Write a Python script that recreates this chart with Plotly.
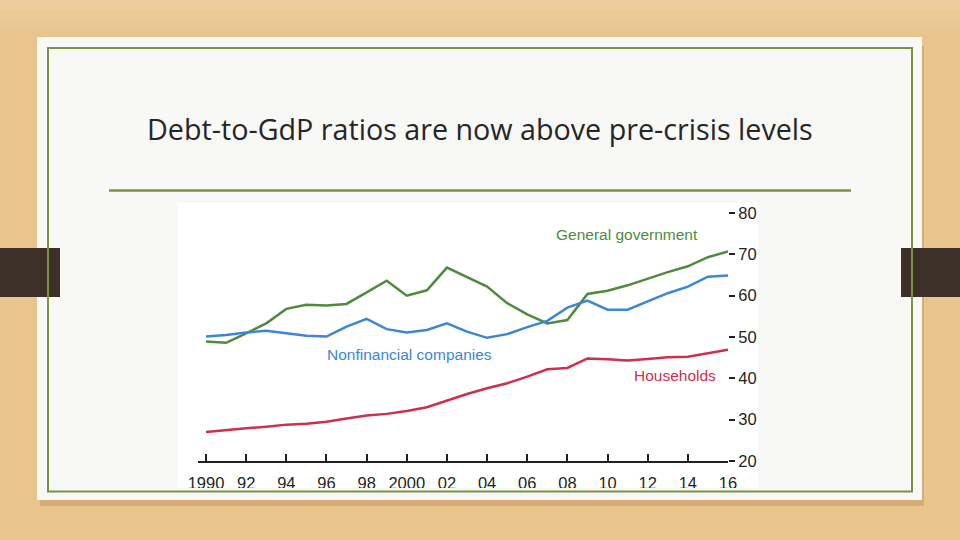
import plotly.graph_objects as go

years = list(range(1990, 2017))
general_government = [48.9, 48.6, 50.9, 53.3, 56.8, 57.8, 57.6, 58.0, 60.8, 63.6, 60.0, 61.3, 66.8, 64.4,
                      62.2, 58.2, 55.5, 53.3, 54.1, 60.4, 61.2, 62.5, 64.1, 65.7, 67.1, 69.3, 70.7]
nonfinancial_companies = [50.1, 50.5, 51.1, 51.5, 50.9, 50.3, 50.1, 52.5, 54.4, 51.9, 51.1, 51.7, 53.3, 51.3,
                          49.8, 50.7, 52.4, 53.9, 57.1, 58.8, 56.6, 56.6, 58.6, 60.6, 62.2, 64.6, 64.9]
households = [27.0, 27.5, 27.9, 28.3, 28.8, 29.0, 29.5, 30.3, 31.0, 31.4, 32.1, 33.0, 34.6, 36.2,
              37.6, 38.8, 40.4, 42.2, 42.5, 44.8, 44.6, 44.3, 44.7, 45.1, 45.2, 46.1, 46.9]
x_tick_vals = list(range(1990, 2017, 2))
x_tick_text = ["1990", "92", "94", "96", "98", "2000", "02", "04", "06", "08", "10", "12", "14", "16"]
y_tick_vals = [20, 30, 40, 50, 60, 70, 80]

title_text = "Debt-to-GdP ratios are now above pre-crisis levels"

W, H = 960, 540
WOOD = "#e9c58e"
CARD = "#f8f8f7"
OLIVE = "#7b9243"
GREEN = "#4f8a3d"
BLUE = "#3c86d3"
RED = "#cf2f4c"
INK = "#231f20"
NARROW = "Liberation Sans, Arial, sans-serif"


def px(x):
    return x / W


def py(y):
    return 1 - y / H


def rect(x0, y0, x1, y1, fill=None, line=None, lw=0, layer="below"):
    d = dict(type="rect", xref="paper", yref="paper",
             x0=px(x0), x1=px(x1), y0=py(y1), y1=py(y0), layer=layer,
             line=dict(width=lw, color=line or "rgba(0,0,0,0)"))
    if fill:
        d["fillcolor"] = fill
    return d


fig = go.Figure()
fig.add_trace(go.Scatter(x=years, y=general_government, mode="lines",
                         line=dict(color=GREEN, width=2.5), yaxis="y2", showlegend=False))
fig.add_trace(go.Scatter(x=years, y=nonfinancial_companies, mode="lines",
                         line=dict(color=BLUE, width=2.5), yaxis="y2", showlegend=False))
fig.add_trace(go.Scatter(x=years, y=households, mode="lines",
                         line=dict(color=RED, width=2.5), yaxis="y2", showlegend=False))

shapes = [
    # soft lighter wood toward the top
    rect(0, 0, 960, 10, fill="rgba(248,225,185,0.15)"),
    rect(0, 0, 960, 20, fill="rgba(248,225,185,0.12)"),
    rect(0, 0, 960, 30, fill="rgba(248,225,185,0.10)"),
    # shadow + card
    rect(40, 46, 924, 506, fill="rgba(140,95,40,0.22)"),
    rect(37, 37, 922, 500, fill=CARD),
    # chart image background
    rect(178, 203, 758, 489, fill="#ffffff"),
    # side tabs
    rect(0, 248, 60, 297, fill="#3c3028"),
    rect(901, 248, 960, 297, fill="#3c3028"),
    # clip strip under chart image (covers bottom of tick labels)
    rect(170, 488, 770, 491, fill=CARD, layer="above"),
    # green border
    rect(48, 48, 912, 491.5, line=OLIVE, lw=2, layer="above"),
    # rule under title
    dict(type="line", xref="paper", yref="paper", x0=px(109), x1=px(851), y0=py(190.5), y1=py(190.5),
         line=dict(color=OLIVE, width=2.5), layer="above"),
]

annotations = [
    dict(text=title_text, xref="paper", yref="paper", x=px(480), y=py(128), showarrow=False,
         xanchor="center", yanchor="middle", font=dict(family="Open Sans", size=28.7, color="#262626")),
    dict(text="General government", xref="paper", yref="paper", x=px(700), y=py(234), showarrow=False,
         xanchor="right", yanchor="middle", font=dict(family=NARROW, size=15.5, color=GREEN)),
    dict(text="Nonfinancial companies", xref="paper", yref="paper", x=px(325), y=py(354), showarrow=False,
         xanchor="left", yanchor="middle", font=dict(family=NARROW, size=15.5, color=BLUE)),
    dict(text="Households", xref="paper", yref="paper", x=px(718), y=py(375), showarrow=False,
         xanchor="right", yanchor="middle", font=dict(family=NARROW, size=15.5, color=RED)),
]

fig.update_layout(
    width=W, height=H,
    margin=dict(l=0, r=0, t=0, b=0, autoexpand=False),
    paper_bgcolor=WOOD,
    plot_bgcolor="rgba(0,0,0,0)",
    shapes=shapes,
    annotations=annotations,
    xaxis=dict(domain=[px(198), px(728)], range=[1989.6, 2016], tickvals=x_tick_vals, ticktext=x_tick_text,
               ticks="inside", ticklen=7, tickwidth=1.5, tickcolor=INK, showline=True, linecolor=INK,
               linewidth=1.5, showgrid=False, zeroline=False, automargin=False, ticklabelstandoff=6,
               tickfont=dict(family=NARROW, size=16.5, color=INK)),
    yaxis=dict(domain=[py(461), py(213)], range=[20, 80], anchor="free", position=px(206),
               tickvals=y_tick_vals[1:], ticks="outside", ticklen=8, tickwidth=2, tickcolor=INK,
               showticklabels=False, showgrid=False, zeroline=False, showline=False, automargin=False),
    yaxis2=dict(domain=[py(461), py(213)], range=[20, 80], overlaying="y", side="right", anchor="x",
                tickvals=y_tick_vals, ticks="outside", ticklen=6, tickwidth=1.5, tickcolor=INK,
                showgrid=False, zeroline=False, showline=False, automargin=False,
                tickfont=dict(family=NARROW, size=16.5, color=INK)),
)

fig.write_html("out.html", config={"displayModeBar": False},
               post_script="document.body.style.margin='0';document.body.style.overflow='hidden';")
